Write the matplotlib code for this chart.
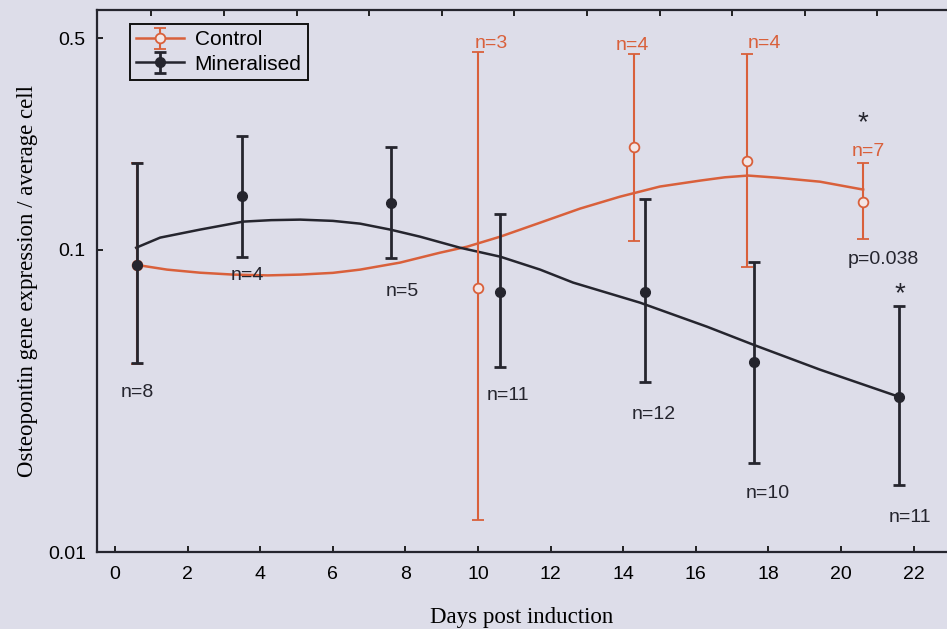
import matplotlib
matplotlib.use("Agg")
import matplotlib.pyplot as plt

# error-bar points (mean, upper, lower)
ctrl_x = [0.6, 10.0, 14.3, 17.4, 20.6]
ctrl_y = [0.089, 0.0748, 0.218, 0.197, 0.144]
ctrl_hi = [0.193, 0.45, 0.445, 0.445, 0.193]
ctrl_lo = [0.042, 0.0128, 0.107, 0.0879, 0.1087]

min_x = [0.6, 3.5, 7.6, 10.6, 14.6, 17.6, 21.6]
min_y = [0.0892, 0.150, 0.143, 0.0726, 0.0726, 0.0426, 0.0326]
min_hi = [0.193, 0.238, 0.218, 0.1316, 0.1476, 0.0912, 0.0653]
min_lo = [0.0422, 0.0948, 0.094, 0.041, 0.0366, 0.0197, 0.0167]

# fitted trend curves
ctrl_fit_x = [0.55, 1.43, 2.34, 3.25, 4.2, 5.1, 6.0, 6.75, 7.85, 8.95, 9.7, 10.61,
              11.71, 12.81, 13.91, 15.01, 16.12, 16.8, 17.44, 18.24, 19.42, 20.61]
ctrl_fit_y = [0.0892, 0.0859, 0.0839, 0.0827, 0.0822, 0.0827, 0.0838, 0.0859,
              0.0906, 0.0977, 0.1023, 0.1104, 0.1228, 0.1367, 0.1497, 0.1617,
              0.1692, 0.1735, 0.1758, 0.1730, 0.1678, 0.158]
min_fit_x = [0.58, 1.24, 2.34, 3.53, 4.3, 5.1, 6.0, 6.75, 7.58, 8.4, 9.5, 10.61,
             11.71, 12.62, 14.46, 16.31, 17.58, 19.42, 21.6]
min_fit_y = [0.1015, 0.1096, 0.1165, 0.1238, 0.1252, 0.1257, 0.1245, 0.1219,
             0.1165, 0.1104, 0.1015, 0.0948, 0.0859, 0.0778, 0.0668, 0.0556,
             0.0485, 0.0401, 0.0326]

# annotations: (text, x, y, colour)
ORANGE = "#D9603B"
DARK = "#25252e"
notes = [
    ("n=8", 0.6, 0.0336, DARK), ("n=4", 3.64, 0.082, DARK),
    ("n=5", 7.9, 0.0726, DARK), ("n=3", 10.36, 0.481, ORANGE),
    ("n=11", 10.83, 0.0329, DARK), ("n=4", 14.24, 0.473, ORANGE),
    ("n=12", 14.85, 0.0286, DARK), ("n=4", 17.9, 0.481, ORANGE),
    ("n=10", 17.99, 0.01556, DARK), ("n=7", 20.74, 0.2114, ORANGE),
    ("p=0.038", 21.16, 0.0927, DARK), ("n=11", 21.9, 0.01298, DARK),
]
stars = [(20.6, 0.262), (21.63, 0.071)]

BG = "#DDDDE9"
plt.rcParams["font.family"] = ["Liberation Sans", "DejaVu Sans"]

fig = plt.figure(figsize=(9.47, 6.29), dpi=100, facecolor=BG)
ax = fig.add_axes([0.1024, 0.1224, 0.8976, 0.8616], facecolor=BG)
ax.set_yscale("log")

c_fit, = ax.plot(ctrl_fit_x, ctrl_fit_y, color=ORANGE, lw=1.8, zorder=2)
m_fit, = ax.plot(min_fit_x, min_fit_y, color=DARK, lw=1.8, zorder=3)

c_err = [[y - l for y, l in zip(ctrl_y, ctrl_lo)], [h - y for y, h in zip(ctrl_y, ctrl_hi)]]
m_err = [[y - l for y, l in zip(min_y, min_lo)], [h - y for y, h in zip(min_y, min_hi)]]

c_eb = ax.errorbar(ctrl_x, ctrl_y, yerr=c_err, fmt="o", color=ORANGE, ecolor=ORANGE,
                   mfc="#f3e6e6", mec=ORANGE, ms=7, mew=1.3, elinewidth=1.5,
                   capsize=4, capthick=1.5, zorder=4)
m_eb = ax.errorbar(min_x, min_y, yerr=m_err, fmt="o", color=DARK, ecolor=DARK,
                   mfc=DARK, mec=DARK, ms=7, elinewidth=2, capsize=4,
                   capthick=2, zorder=5)

for txt, x, y, col in notes:
    ax.text(x, y, txt, color=col, fontsize=14, ha="center", va="center", zorder=6)
for x, y in stars:
    ax.text(x, y, "*", color=DARK, fontsize=20, ha="center", va="center", zorder=6)

ax.set_xlim(-0.5, 22.92)
ax.set_ylim(0.01, 0.62)
ax.set_xticks(range(0, 23, 2))
ax.set_yticks([0.01, 0.1, 0.5])
ax.set_yticklabels(["0.01", "0.1", "0.5"])
ax.yaxis.set_minor_locator(matplotlib.ticker.NullLocator())
ax.set_xticks(range(0, 23), minor=True)
ax.tick_params(axis="x", which="major", direction="in", length=4, width=1.2,
               labelsize=14, pad=10, top=False)
ax.tick_params(axis="x", which="minor", direction="in", length=4, width=1.2,
               bottom=False, top=True)
ax.tick_params(axis="y", which="major", direction="in", length=4, width=1.2,
               labelsize=14, pad=8)
ax.spines["right"].set_visible(False)
for s in ["left", "top", "bottom"]:
    ax.spines[s].set_linewidth(1.6)
    ax.spines[s].set_color(DARK)

ax.set_xlabel("Days post induction", family="Liberation Serif", fontsize=16.5, labelpad=17)
ax.set_ylabel("Osteopontin gene expression / average cell", family="Liberation Serif",
              fontsize=16.5, labelpad=7)

leg = ax.legend([(c_fit, c_eb), (m_fit, m_eb)], ["Control", "Mineralised"],
                loc="upper left", bbox_to_anchor=(0.0388, 0.974),
                fontsize=15, frameon=True, fancybox=False, edgecolor="#111111",
                facecolor=BG, framealpha=1, borderpad=0.3, labelspacing=0.25,
                handlelength=2.3, handletextpad=0.5, borderaxespad=0)
leg.get_frame().set_linewidth(1.4)

fig.savefig("out.png", dpi=100, facecolor=BG)
